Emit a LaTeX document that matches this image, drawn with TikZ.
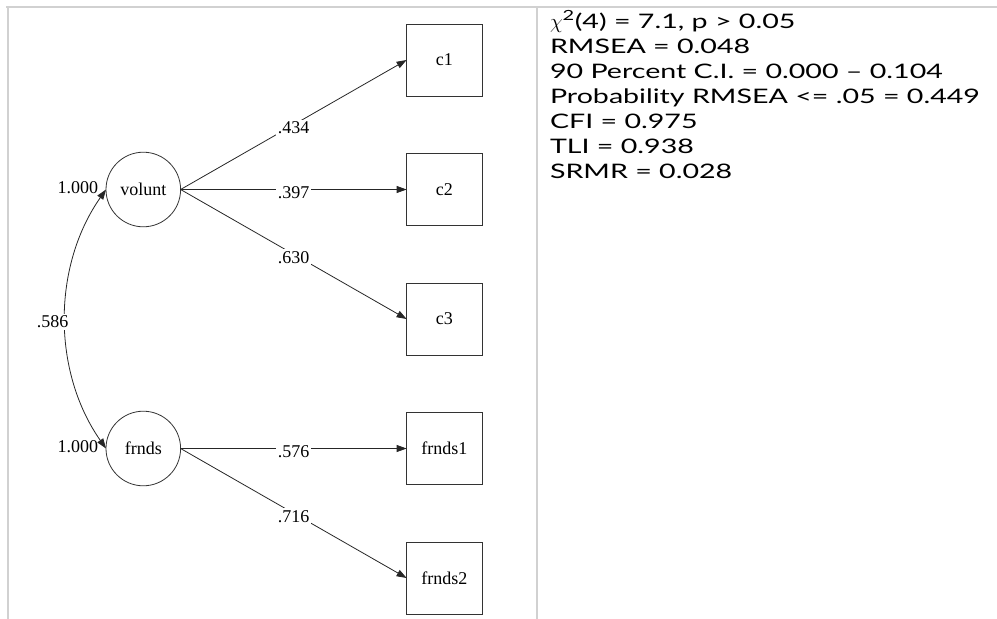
\documentclass[tikz,border=0pt]{standalone}
\usepackage{fontspec}
\setmainfont{Liberation Serif}
\newfontfamily\statsfont[FakeStretch=1.43]{Lato}
\usepackage{tikz}
\usetikzlibrary{arrows.meta,positioning,calc}
\tikzset{
	sem diagram/.style={
		x=1pt, y=1pt,
		node distance=57.5pt and 226pt,
		every node/.style={font=\fontsize{18}{21}\selectfont, outer sep=0pt},
		},
	latent/.style={draw=black!80, line width=.8pt, circle, minimum size=74.6pt, inner sep=0pt},
	indicator/.style={draw=black!80, line width=.8pt, rectangle, minimum width=75.6pt,
		minimum height=72pt, inner sep=0pt},
	ar/.style={draw=black!85, line width=.8pt, -{Triangle[length=10pt,width=7pt]}},
	cov/.style={draw=black!85, line width=.8pt,
		{Triangle[length=10pt,width=7pt]}-{Triangle[length=10pt,width=7pt]}},
	est/.style={fill=white, inner sep=2pt, yshift=-3pt},
	head est/.style={inner sep=1pt, anchor=east, xshift=-7pt, yshift=2pt},
	frame line/.style={draw=black!18, line width=2pt},
	stats/.style={font=\statsfont\fontsize{20}{25}\selectfont, align=left, inner sep=0pt}
}

\begin{document}
\begin{tikzpicture}[sem diagram]
   \useasboundingbox (0,0) rectangle (997,-619);
   \draw[frame line] (6,-7) -- (997,-7) (8,-7) -- (8,-619) (537,-7) -- (537,-619);
   \node[latent] (volunt) at (143.3,-189.5) {volunt};
   \node[indicator, right=of volunt] (c2) {c2};
   \node[indicator, above=of c2] (c1) {c1};
   \node[indicator, below=of c2] (c3) {c3};
   \node[indicator, below=of c3] (frnds1) {frnds1};
   \node[indicator, below=of frnds1] (frnds2) {frnds2};
   \node[latent, left=of frnds1] (frnds) {frnds};
   \draw[ar] (volunt.east) -- node[est] {.434} (c1.west);
   \draw[ar] (volunt.east) -- node[est] {.397} (c2.west);
   \draw[ar] (volunt.east) -- node[est] {.630} (c3.west);
   \draw[ar] (frnds.east) -- node[est] {.576} (frnds1.west);
   \draw[ar] (frnds.east) -- node[est] {.716} (frnds2.west);
   \draw[cov] (volunt.west) to[out=235, in=125, looseness=.93]
       node[head est, pos=0] {1.000}
       node[est, pos=.5, xshift=-13pt] {.586}
       node[head est, pos=1] {1.000} (frnds.west);
   \node[stats, anchor=north west] (fit) at (550,-10.5) {%
      $\chi$\textsuperscript{2}(4) = 7.1, p > 0.05\\
      RMSEA = 0.048\\
      90 Percent C.I. = 0.000 \textendash{} 0.104\\
      Probability RMSEA <= .05 = 0.449\\
      CFI = 0.975\\
      TLI = 0.938\\
      SRMR = 0.028};
\end{tikzpicture}
\end{document}
